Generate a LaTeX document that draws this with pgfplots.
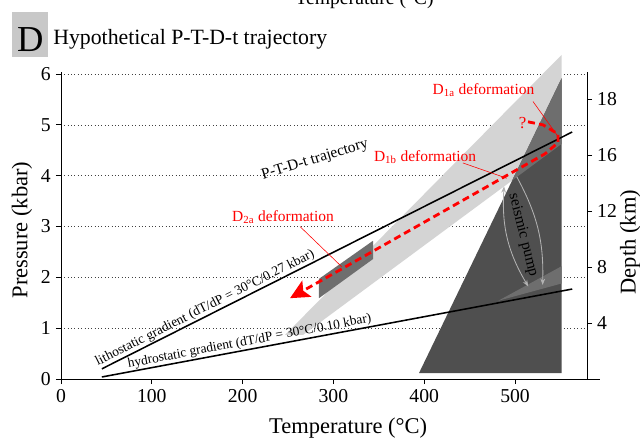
\documentclass[border=0pt]{standalone}
\usepackage{fontspec}
\setmainfont{Liberation Serif}
\usepackage{pgfplots}
\pgfplotsset{compat=1.18}
\usetikzlibrary{arrows.meta}
\definecolor{bandlight}{HTML}{D4D4D4}
\definecolor{darktri}{HTML}{4F4F4F}
\definecolor{midgray}{HTML}{6E6E6E}
\definecolor{boxgray}{HTML}{C8C8C8}
\newcommand{\px}[2]{({((#1)-61)*0.25mm},{(379-(#2))*0.25mm})}
\begin{document}
\begin{tikzpicture}
\begin{axis}[
  at={(0,0)}, anchor=south west,
  scale only axis, width=131.5mm, height=76.75mm,
  xmin=0, xmax=579.3, ymin=0, ymax=6.04,
  axis x line*=bottom, axis y line*=left,
  xtick={0,100,...,500}, ytick={0,1,...,6},
  ymajorgrids, grid style={dotted, black!75, line width=0.5pt},
  tick align=outside, major tick length=1.3mm,
  tick style={black, line width=0.6pt},
  axis line style={line width=0.6pt},
  tick label style={font=\fontsize{14}{16}\selectfont},
  /pgf/number format/assume math mode=true,
  clip=false,
  xlabel={Temperature (°C)}, ylabel={Pressure (kbar)},
  label style={font=\fontsize{16}{18}\selectfont},
  xlabel style={at={(axis description cs:0.546,-0.16)}, anchor=center},
  ylabel style={at={(axis description cs:-0.074,0.485)}, anchor=center},
]
% light band
\addplot[fill=bandlight, draw=none] coordinates {(246.7,0.866) (266.5,0.866) (551.4,4.626) (551.4,6.378)} -- cycle;
% dark triangle
\addplot[fill=darktri, draw=none] coordinates {(394.3,0.118) (551.4,0.118) (551.4,5.92)} -- cycle;
% overlap region
\addplot[fill=midgray, draw=none] coordinates {(496.9,3.907) (551.4,5.92) (551.4,4.626)} -- cycle;
% lower lighter strip
\addplot[fill=midgray, draw=none] coordinates {(481.6,1.54) (551.4,2.22) (551.4,1.88)} -- cycle;
% D2a box
\addplot[fill=midgray, draw=none] coordinates {(284.1,1.59) (284.1,1.97) (343.6,2.72) (343.6,2.36)} -- cycle;
% gradients
\addplot[black, line width=1.1pt] coordinates {(45,0.2) (563,4.86)};
\addplot[black, line width=1.1pt] coordinates {(45,0.04) (563,1.77)};
% trajectory
\addplot[red, line width=2pt, dash pattern=on 5pt off 3pt, line join=round,
  -{Stealth[length=4.8mm,width=4.6mm,inset=1mm]}]
  coordinates {(514.3,5.06) (530.8,5.00) (547.4,4.82) (547.4,4.65) (533.0,4.43) (252.2,1.59)};
% leader lines
\addplot[red, line width=0.4pt] coordinates {(519.8,5.46) (547.4,4.77)};
\addplot[red, line width=0.4pt] coordinates {(442.7,4.25) (490.9,3.95)};
\addplot[red, line width=0.4pt] coordinates {(263.2,3.0) (309.1,2.21)};
% seismic pump arcs
\draw[black!30, line width=0.6pt, {Stealth[length=1.6mm,width=1.2mm]}-{Stealth[length=1.6mm,width=1.2mm]}]
  (axis cs:487.9,3.79) to[bend right=17] (axis cs:514.6,1.82);
\draw[black!30, line width=0.6pt, -{Stealth[length=1.6mm,width=1.2mm]}]
  (axis cs:501.9,3.98) to[bend left=15] (axis cs:530.4,1.85);
\node[rotate=-76, font=\fontsize{11}{13}\selectfont] at (axis cs:508.8,2.83) {seismic pump};
% texts
\node[red, font=\fontsize{12}{14}\selectfont] at (axis cs:508.5,5.03) {?};
\node[red, font=\fontsize{11}{13}\selectfont] at (axis cs:465.3,5.69) {D\textsubscript{1a} deformation};
\node[red, font=\fontsize{11}{13}\selectfont] at (axis cs:401.0,4.37) {D\textsubscript{1b} deformation};
\node[red, font=\fontsize{11}{13}\selectfont] at (axis cs:244.5,3.19) {D\textsubscript{2a} deformation};
\node[rotate=17, font=\fontsize{11}{13}\selectfont] at (axis cs:279.7,4.31) {P-T-D-t trajectory};
\node[rotate=26.7, anchor=south, inner sep=0.3mm, font=\fontsize{9.6}{11}\selectfont] at (axis cs:162.5,1.257) {lithostatic gradient (dT/dP = 30°C/0.27 kbar)};
\node[rotate=10.6, anchor=south, inner sep=0.3mm, font=\fontsize{9.5}{11}\selectfont] at (axis cs:209.3,0.589) {hydrostatic gradient (dT/dP = 30°C/0.10 kbar)};
\end{axis}
\begin{axis}[
  at={(0,0)}, anchor=south west,
  scale only axis, width=131.5mm, height=76.75mm,
  xmin=0, xmax=579.3, ymin=0, ymax=6.04,
  axis y line*=right, axis x line=none, xtick=\empty,
  ytick={1.1,2.2,3.3,4.4,5.5}, yticklabels={4,8,12,16,18},
  tick align=outside, major tick length=1.3mm,
  tick style={black, line width=0.6pt},
  axis line style={line width=0.6pt},
  tick label style={font=\fontsize{14}{16}\selectfont},
  ylabel={Depth (km)},
  label style={font=\fontsize{16}{18}\selectfont},
  ylabel style={at={(axis description cs:1.082,0.446)}, anchor=center},
]
\end{axis}
\draw[line width=0.6pt] \px{587}{379} -- \px{600}{379};
% title
\fill[boxgray] \px{12}{11.5} rectangle \px{48.4}{57.4};
\node[font=\fontsize{26}{28}\selectfont, anchor=base, inner sep=0pt] at \px{30.2}{51} {D};
\node[font=\fontsize{15.5}{18}\selectfont, anchor=base west, inner sep=0pt] at \px{53}{44.3} {Hypothetical P-T-D-t trajectory};
\node[font=\fontsize{14}{16}\selectfont, anchor=base, inner sep=0pt] at \px{364.5}{4} {Temperature (°C)};
\pgfresetboundingbox
\path[use as bounding box] \px{0}{0} rectangle \px{640}{439};
\end{tikzpicture}
\end{document}
